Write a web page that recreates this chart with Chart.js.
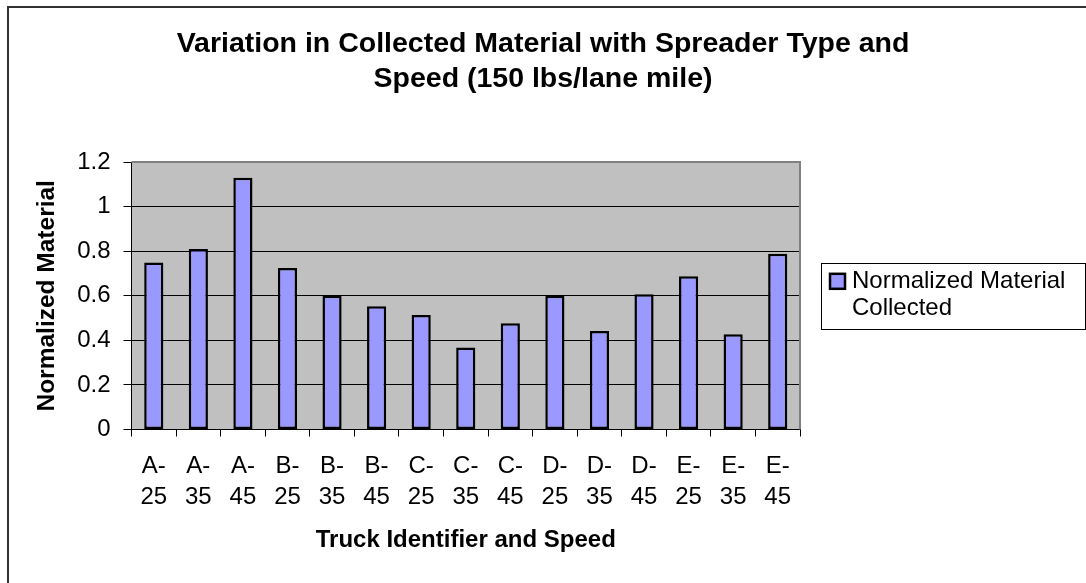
<!DOCTYPE html>
<html>
<head>
<meta charset="utf-8">
<title>Variation in Collected Material</title>
<script src="https://cdn.jsdelivr.net/npm/chart.js@4.4.1/dist/chart.umd.min.js"></script>
<style>
  body { margin: 0; background: #fff; }
  canvas { display: block; }
</style>
</head>
<body>
<canvas id="grafico" width="1086" height="583"></canvas>
<script>
// datos
var categorias = ['A-25', 'A-35', 'A-45', 'B-25', 'B-35', 'B-45', 'C-25', 'C-35', 'C-45',
                  'D-25', 'D-35', 'D-45', 'E-25', 'E-35', 'E-45'];
var valores = [0.75, 0.81, 1.13, 0.725, 0.6, 0.553, 0.514, 0.368, 0.477,
               0.6, 0.442, 0.607, 0.688, 0.427, 0.789];
var ticksY = [0, 0.2, 0.4, 0.6, 0.8, 1, 1.2];
var titulo = ['Variation in Collected Material with Spreader Type and', 'Speed (150 lbs/lane mile)'];
var tituloX = 'Truck Identifier and Speed';
var tituloY = 'Normalized Material';
var serie = 'Normalized Material Collected';
var leyendaLineas = ['Normalized Material', 'Collected'];

var fuente = '"Liberation Sans", Arial, sans-serif';
Chart.defaults.font.family = fuente;
Chart.defaults.color = '#000';

// "A-25" -> ["A-", "25"] como en excel
function partirEtiqueta(t){
  var i = t.indexOf('-');
  return [t.substring(0, i + 1), t.substring(i + 1)];
}

// fondo gris del area, borde gris arriba/derecha, marco exterior y leyenda
var fondoPlugin = {
  id: 'fondo',
  beforeDraw: function(chart){
    var ctx = chart.ctx, a = chart.chartArea;
    ctx.save();
    ctx.fillStyle = '#C0C0C0';
    ctx.fillRect(a.left, a.top, a.right - a.left, a.bottom - a.top);
    ctx.restore();
  },
  beforeDatasetsDraw: function(chart){
    var ctx = chart.ctx, a = chart.chartArea;
    ctx.save();
    ctx.strokeStyle = '#808080';
    ctx.lineWidth = 2;
    ctx.beginPath();
    ctx.moveTo(a.left, a.top);
    ctx.lineTo(a.right, a.top);
    ctx.lineTo(a.right, a.bottom);
    ctx.stroke();
    ctx.restore();
  },
  afterDraw: function(chart){
    var ctx = chart.ctx, a = chart.chartArea;
    ctx.save();
    // marco del grafico (solo izquierda y arriba se ven)
    ctx.strokeStyle = '#333';
    ctx.lineWidth = 2;
    ctx.beginPath();
    ctx.moveTo(8, chart.height);
    ctx.lineTo(8, 7);
    ctx.lineTo(chart.width, 7);
    ctx.stroke();

    // leyenda
    var bx = a.right + 21, bw = 264, bh = 66;
    var by = (a.top + a.bottom) / 2 - bh / 2;
    ctx.lineWidth = 1;
    ctx.strokeStyle = '#000';
    ctx.fillStyle = '#fff';
    ctx.fillRect(bx, by, bw, bh);
    ctx.strokeRect(Math.round(bx) + 0.5, Math.round(by) + 0.5, bw, bh);
    var color = chart.data.datasets[0].backgroundColor;
    ctx.fillStyle = color;
    ctx.fillRect(bx + 9, by + 11, 15, 15);
    ctx.lineWidth = 2.5;
    ctx.strokeRect(bx + 9, by + 11, 15, 15);
    ctx.fillStyle = '#000';
    ctx.font = '24px ' + fuente;
    ctx.textBaseline = 'middle';
    ctx.textAlign = 'left';
    for (var i = 0; i < leyendaLineas.length; i++) {
      ctx.fillText(leyendaLineas[i], bx + 31, by + 19 + i * 27);
    }
    ctx.restore();
  }
};

function CrearGrafico(){
  var ctx = document.getElementById('grafico');
  var myChart = new Chart(ctx, {
    type: 'bar',
    data: {
      labels: categorias.map(partirEtiqueta),
      datasets: [{
        label: serie,
        data: valores,
        backgroundColor: '#9999FF',
        borderColor: '#000',
        borderWidth: 2.5,
        borderSkipped: false,
        categoryPercentage: 1,
        barPercentage: 0.43
      }]
    },
    options: {
      responsive: false,
      animation: false,
      devicePixelRatio: 1,
      layout: { padding: 0 },
      plugins: {
        legend: { display: false },
        tooltip: { enabled: false },
        title: {
          display: true,
          text: titulo,
          color: '#000',
          font: { size: 28.5, weight: 'bold', lineHeight: 1.23 },
          padding: { top: 27, bottom: 65 }
        }
      },
      scales: {
        x: {
          offset: true,
          grid: {
            offset: true,
            drawOnChartArea: false,
            color: '#000',
            tickColor: '#000',
            tickLength: 7
          },
          border: { display: true, color: '#000', width: 1 },
          ticks: {
            font: { size: 24, lineHeight: 1.3 },
            padding: 14,
            maxRotation: 0,
            autoSkip: false
          },
          title: {
            display: true,
            text: tituloX,
            font: { size: 24, weight: 'bold' },
            padding: { top: 0, bottom: 28 }
          },
          afterFit: function(s){ s.height = 153.5; }
        },
        y: {
          min: 0,
          max: 1.2,
          afterBuildTicks: function(s){
            s.ticks = ticksY.map(function(v){ return { value: v }; });
          },
          grid: {
            color: function(c){ return c.tick && c.tick.value === 1.2 ? '#808080' : '#000'; },
            tickColor: '#000',
            tickLength: 8,
            lineWidth: 1
          },
          border: { display: true, color: '#000', width: 1 },
          ticks: {
            font: { size: 24 },
            padding: 13,
            callback: function(v){ return String(Number(v.toFixed(1))); }
          },
          title: {
            display: true,
            text: tituloY,
            font: { size: 24.5, weight: 'bold' },
            padding: { top: 33, bottom: 0 }
          },
          afterFit: function(s){ s.width = 131.5; }
        },
        // eje vacio a la derecha: deja el hueco para la leyenda
        hueco: {
          type: 'linear',
          position: 'right',
          display: true,
          grid: { display: false },
          border: { display: false },
          ticks: { display: false },
          afterFit: function(s){ s.width = 286; }
        }
      }
    },
    plugins: [fondoPlugin]
  });
}

CrearGrafico();
</script>
</body>
</html>
